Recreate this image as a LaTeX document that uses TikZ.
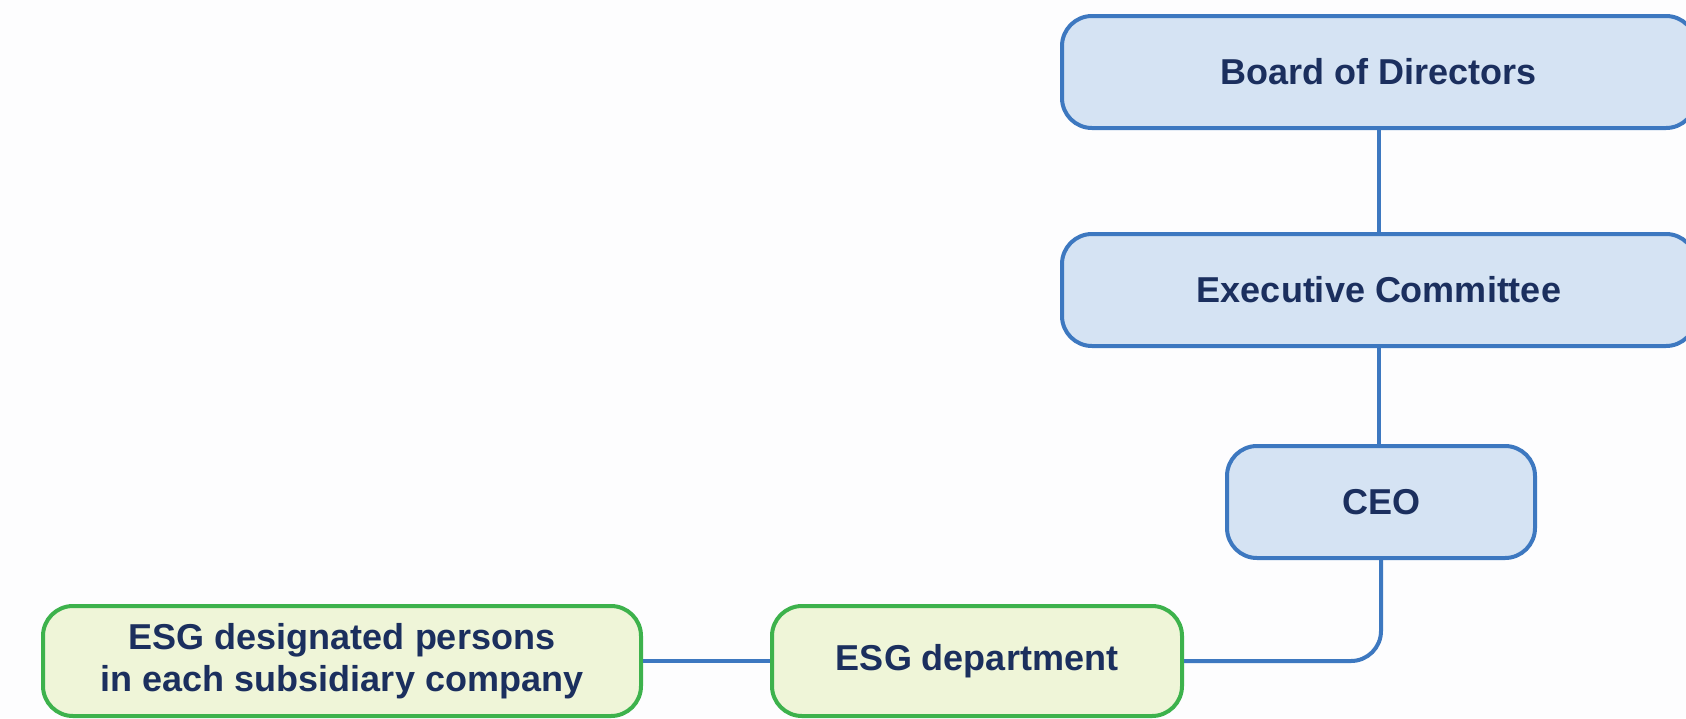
\documentclass[tikz,border=0pt]{standalone}
\usepackage{fontspec}
\setmainfont{Liberation Sans}
\definecolor{bluefill}{HTML}{D5E3F3}
\definecolor{blueline}{HTML}{3D78C0}
\definecolor{greenfill}{HTML}{EFF5D8}
\definecolor{greenline}{HTML}{3DB24C}
\definecolor{txt}{HTML}{1B2F5E}
\definecolor{bg}{HTML}{FDFDFE}
\begin{document}
\begin{tikzpicture}[x=0.5pt,y=-0.5pt,
  box/.style={rounded corners=15pt, line width=2pt, inner sep=0pt,
    font=\fontsize{18}{21}\selectfont\bfseries, text=txt, align=center},
  bluebox/.style={box, draw=blueline, fill=bluefill},
  greenbox/.style={box, draw=greenline, fill=greenfill},
  link/.style={draw=blueline, line width=2pt}]
\fill[bg] (0,0) rectangle (1686,718);
\useasboundingbox (0,0) rectangle (1686,718);
\begin{scope}
\clip (0,0) rectangle (1686,718);
\node[bluebox, minimum width=317pt, minimum height=56pt] (board) at (1379,72) {Board of Directors};
\node[bluebox, minimum width=317pt, minimum height=56pt] (exec) at (1379,290) {Executive Committee};
\node[bluebox, minimum width=154pt, minimum height=56pt] (ceo) at (1381,502) {CEO};
\node[greenbox, minimum width=205pt, minimum height=55pt] (dept) at (977,661) {ESG department};
\node[greenbox, minimum width=299pt, minimum height=55pt] (pers) at (342,661) {ESG designated persons\\in each subsidiary company};
\draw[link] (board.south) -- (board.south |- exec.north);
\draw[link] (exec.south) -- (exec.south |- ceo.north);
\draw[link, rounded corners=15pt] (ceo.south) |- (dept.east);
\draw[link] (dept.west) -- (pers.east);
\end{scope}
\end{tikzpicture}
\end{document}
